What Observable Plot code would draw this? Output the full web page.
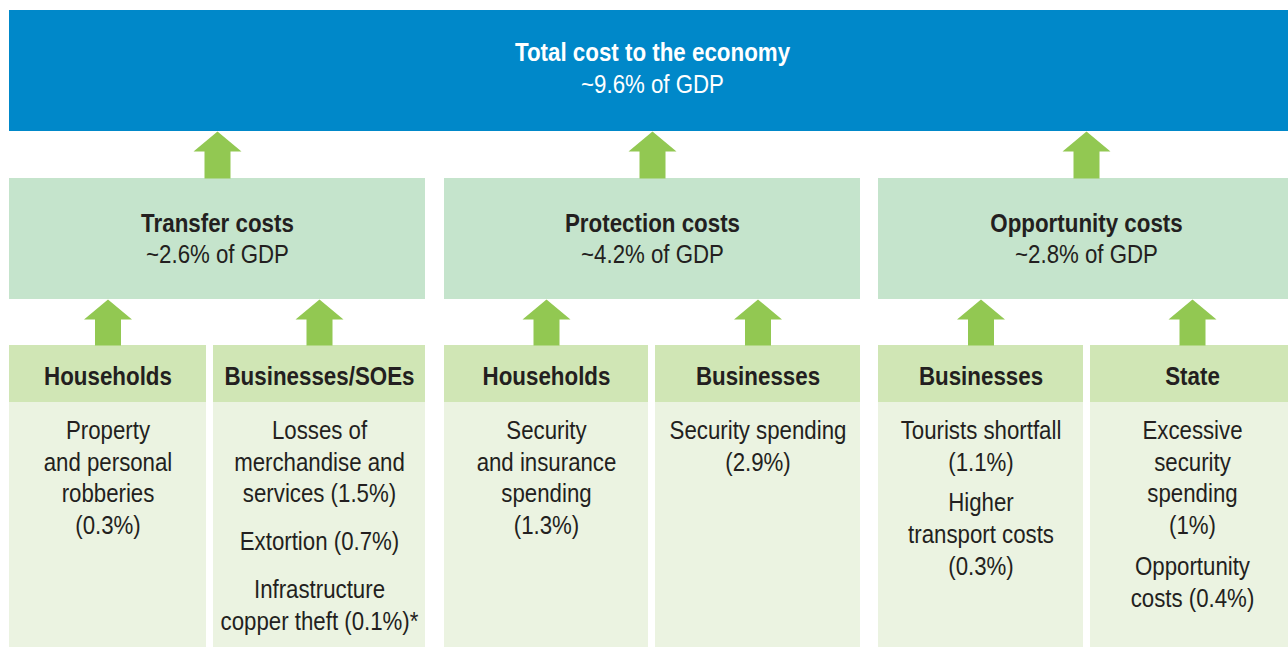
<!DOCTYPE html>
<html>
<head>
<meta charset="utf-8">
<script src="https://cdn.jsdelivr.net/npm/d3@7"></script>
<script src="https://cdn.jsdelivr.net/npm/@observablehq/plot@0.6"></script>
<style>
  html, body { margin: 0; padding: 0; background: #fff; }
  svg { display: block; }
</style>
</head>
<body>
<div id="chart"></div>
<script>
// ---- Data ----
const totalTitle = "Total cost to the economy";
const totalShare = 9.6;
const groupNames = ["Transfer costs", "Protection costs", "Opportunity costs"];
const groupShares = [2.6, 4.2, 2.8];
const sectorNames = [["Households", "Businesses/SOEs"], ["Households", "Businesses"], ["Businesses", "State"]];
// items per sector: each item is a list of text lines
const sectorItems = [
  [
    [["Property", "and personal", "robberies", "(0.3%)"]],
    [["Losses of", "merchandise and", "services (1.5%)"], ["Extortion (0.7%)"], ["Infrastructure", "copper theft (0.1%)*"]]
  ],
  [
    [["Security", "and insurance", "spending", "(1.3%)"]],
    [["Security spending", "(2.9%)"]]
  ],
  [
    [["Tourists shortfall", "(1.1%)"], ["Higher", "transport costs", "(0.3%)"]],
    [["Excessive", "security", "spending", "(1%)"], ["Opportunity", "costs (0.4%)"]]
  ]
];

// ---- Layout ----
const W = 1288, H = 647;
const FONT = "'Liberation Sans', Arial, sans-serif";
const C = {blue: "#0088C9", mid: "#C5E4CC", head: "#D0E6B5", body: "#EBF3E1", arrow: "#92C852", text: "#231F20"};
const groupX = [9, 444, 878], groupW = 416;
const splitW = [197, 204, 205], gap = 7;
const itemGap = [16, 9, 9];
const yTop = [10, 131], yMid = [178, 299], yHead = [345, 402], yBody = [402, 647];
const lineH = 31.7, firstLine = 430.5;

const rects = [{x1: 9, x2: W, y1: yTop[0], y2: yTop[1], fill: C.blue}];
const texts = [
  {x: 652, y: 52, t: totalTitle, fill: "#fff", bold: true},
  {x: 652, y: 84, t: `~${totalShare}% of GDP`, fill: "#fff", bold: false}
];
const arrows = [];
function addArrow(id, cx, yHeadTop, yBottom) {
  const hw = 24, sw = 13, hh = 20;
  const pts = [[cx, yHeadTop], [cx + hw, yHeadTop + hh], [cx + sw, yHeadTop + hh], [cx + sw, yBottom],
               [cx - sw, yBottom], [cx - sw, yHeadTop + hh], [cx - hw, yHeadTop + hh], [cx, yHeadTop]];
  pts.forEach(([x, y]) => arrows.push({id, x, y}));
}
groupNames.forEach((g, i) => {
  const x0 = groupX[i], x1 = x0 + groupW, cx = (x0 + x1) / 2;
  rects.push({x1: x0, x2: x1, y1: yMid[0], y2: yMid[1], fill: C.mid});
  texts.push({x: cx, y: 223.5, t: g, fill: C.text, bold: true});
  texts.push({x: cx, y: 254.5, t: `~${groupShares[i]}% of GDP`, fill: C.text, bold: false});
  addArrow("g" + i, cx, yTop[1], yMid[0]);
  const cols = [[x0, x0 + splitW[i]], [x0 + splitW[i] + gap, x1]];
  cols.forEach(([a, b], j) => {
    const scx = (a + b) / 2;
    rects.push({x1: a, x2: b, y1: yHead[0], y2: yHead[1], fill: C.head});
    rects.push({x1: a, x2: b, y1: yBody[0], y2: yBody[1], fill: C.body});
    addArrow(`s${i}${j}`, scx, yMid[1], yHead[0]);
    texts.push({x: scx, y: 376.5, t: sectorNames[i][j], fill: C.text, bold: true});
    let y = firstLine;
    sectorItems[i][j].forEach(item => {
      item.forEach(line => { texts.push({x: scx, y, t: line, fill: C.text, bold: false}); y += lineH; });
      y += itemGap[i];
    });
  });
});

const chart = Plot.plot({
  width: W, height: H,
  margin: 0,
  x: {domain: [0, W], range: [0, W], axis: null},
  y: {domain: [0, H], range: [0, H], axis: null},
  color: {type: "identity"},
  style: {fontFamily: FONT, background: "#fff"},
  marks: [
    Plot.rect(rects, {x1: "x1", x2: "x2", y1: "y1", y2: "y2", fill: "fill"}),
    Plot.line(arrows, {x: "x", y: "y", z: "id", fill: C.arrow, stroke: "none", curve: "linear"}),
    Plot.text(texts.filter(d => d.bold), {x: "x", y: "y", text: "t", fill: "fill", fontSize: 26, fontWeight: "bold", fontFamily: FONT, className: "narrow-bold"}),
    Plot.text(texts.filter(d => !d.bold), {x: "x", y: "y", text: "t", fill: "fill", fontSize: 25, fontFamily: FONT, className: "narrow-reg"})
  ]
});
// emulate a condensed typeface by narrowing each text horizontally around its anchor
d3.select(chart).selectAll("g.narrow-bold text").attr("transform", function () {
  return (this.getAttribute("transform") || "") + " scale(0.86,1)";
});
d3.select(chart).selectAll("g.narrow-reg text").attr("transform", function () {
  return (this.getAttribute("transform") || "") + " scale(0.89,1)";
});
document.getElementById("chart").appendChild(chart);
</script>
</body>
</html>
